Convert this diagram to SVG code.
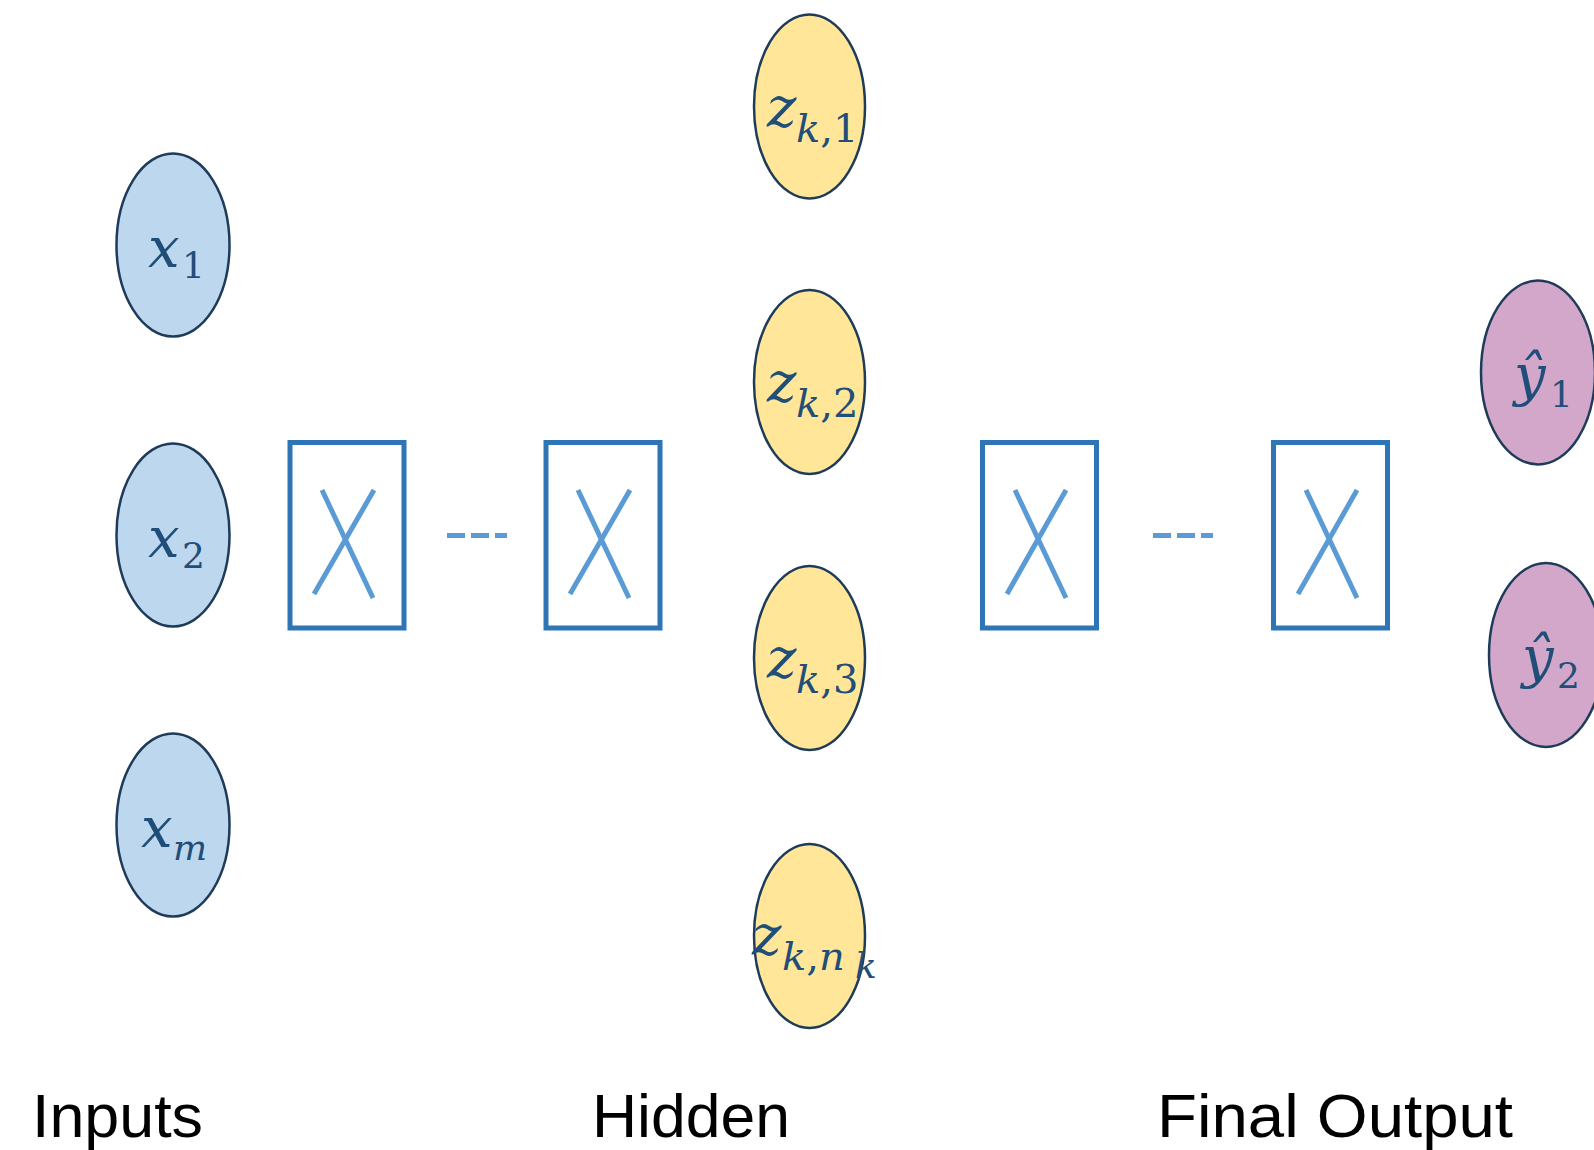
<svg xmlns="http://www.w3.org/2000/svg" width="1594" height="1150" viewBox="0 0 1594 1150">
<style>
.in{fill:#BDD7EE;stroke:#1F3B5A;stroke-width:2.5}
.hid{fill:#FFE699;stroke:#1F3B5A;stroke-width:2.5}
.out{fill:#D3A7CA;stroke:#1F3B5A;stroke-width:2.5}
.box{fill:none;stroke:#2E75B6;stroke-width:5}
.xl{stroke:#5B9BD5;stroke-width:5;fill:none}
.m{font-family:"DejaVu Serif","Liberation Serif",serif;font-style:italic;font-size:56px;fill:#1F4E79}
.s{font-family:"DejaVu Serif","Liberation Serif",serif;font-size:36px;fill:#1F4E79}
.z{font-size:40px}
.si{font-style:italic}
.lab{font-family:"Liberation Sans",Arial,sans-serif;font-size:61px;fill:#000}
</style>
<rect width="1594" height="1150" fill="#fff"/>
<g id="connectors">
<line class="xl" x1="447" y1="535.5" x2="507" y2="535.5" stroke-dasharray="18,6"/>
<line class="xl" x1="1153" y1="535.5" x2="1213" y2="535.5" stroke-dasharray="18,6"/>
</g>
<g id="x1"><ellipse class="in" cx="173" cy="245" rx="56.5" ry="91.5"/><text class="m" x="148" y="267">x</text><text class="s" x="182" y="278">1</text></g>
<g id="x2"><ellipse class="in" cx="173" cy="535" rx="56.5" ry="91.5"/><text class="m" x="148" y="557">x</text><text class="s" x="182" y="568">2</text></g>
<g id="xm"><ellipse class="in" cx="173" cy="825" rx="56.5" ry="91.5"/><text class="m" x="141" y="847">x</text><text class="s si" x="173" y="860">m</text></g>
<g id="layer1"><rect class="box" x="290" y="442.5" width="114" height="185.5"/><line class="xl" x1="322" y1="490" x2="373" y2="598"/><line class="xl" x1="374" y1="490" x2="314" y2="594"/></g>
<g id="layer2"><rect class="box" x="546" y="442.5" width="114" height="185.5"/><line class="xl" x1="578" y1="490" x2="629" y2="598"/><line class="xl" x1="630" y1="490" x2="570" y2="594"/></g>
<g id="zk1"><ellipse class="hid" cx="809.5" cy="106.5" rx="55.5" ry="92"/><text class="m" x="767" y="127">z</text><text class="s z" x="796" y="142"><tspan class="si">k</tspan>,1</text></g>
<g id="zk2"><ellipse class="hid" cx="809.5" cy="382" rx="55.5" ry="92"/><text class="m" x="767" y="402">z</text><text class="s z" x="796" y="417"><tspan class="si">k</tspan>,2</text></g>
<g id="zk3"><ellipse class="hid" cx="809.5" cy="658" rx="55.5" ry="92"/><text class="m" x="767" y="678">z</text><text class="s z" x="796" y="693"><tspan class="si">k</tspan>,3</text></g>
<g id="zknk"><ellipse class="hid" cx="809.5" cy="936" rx="55.5" ry="92"/><text class="m" x="752" y="955">z</text><text class="s z" x="782" y="970"><tspan class="si">k</tspan>,<tspan class="si">n</tspan></text><text class="s si" x="855" y="978">k</text></g>
<g id="layer3"><rect class="box" x="982.5" y="442.5" width="114" height="185.5"/><line class="xl" x1="1015" y1="490" x2="1066" y2="598"/><line class="xl" x1="1066" y1="490" x2="1007" y2="594"/></g>
<g id="layer4"><rect class="box" x="1273.5" y="442.5" width="114" height="185.5"/><line class="xl" x1="1306" y1="490" x2="1357" y2="598"/><line class="xl" x1="1357" y1="490" x2="1298" y2="594"/></g>
<g id="yhat1"><ellipse class="out" cx="1538" cy="372.5" rx="57" ry="92"/><text class="m" x="1514" y="395">ŷ</text><text class="s" x="1550" y="407">1</text></g>
<g id="yhat2"><ellipse class="out" cx="1546" cy="655" rx="57" ry="92"/><text class="m" x="1522" y="677">ŷ</text><text class="s" x="1557" y="688">2</text></g>
<text class="lab" x="32" y="1137" textLength="171" lengthAdjust="spacingAndGlyphs">Inputs</text>
<text class="lab" x="592" y="1137" textLength="198" lengthAdjust="spacingAndGlyphs">Hidden</text>
<text class="lab" x="1157" y="1137" textLength="356" lengthAdjust="spacingAndGlyphs">Final Output</text>
</svg>
